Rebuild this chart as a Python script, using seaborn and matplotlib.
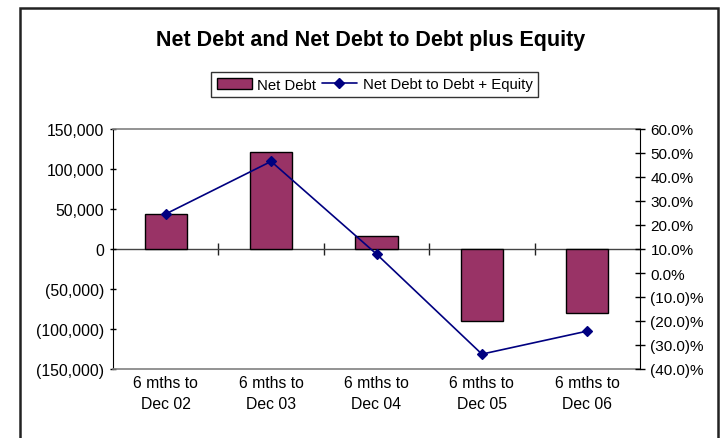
import numpy as np
import pandas as pd
import matplotlib
matplotlib.use('Agg')
import matplotlib.pyplot as plt
import seaborn as sns
from matplotlib.patches import Patch, Rectangle
from matplotlib.lines import Line2D
from matplotlib.ticker import FuncFormatter, MultipleLocator

# Data
periods = ['6 mths to\nDec 02', '6 mths to\nDec 03', '6 mths to\nDec 04',
           '6 mths to\nDec 05', '6 mths to\nDec 06']
net_debt = [43500, 121000, 16000, -90000, -80000]
net_debt_ratio = [24.6, 46.5, 7.9, -33.8, -24.2]  # percent

bar_color = '#993366'
line_color = '#000080'

sns.set_style('white')
plt.rcParams['font.family'] = ['Liberation Sans', 'DejaVu Sans']
plt.rcParams['text.color'] = 'black'

df = pd.DataFrame({'period': periods, 'net_debt': net_debt, 'ratio': net_debt_ratio})

fig = plt.figure(figsize=(7.23, 4.39), dpi=100)
ax = fig.add_axes([113 / 723, 1 - 370 / 439, 527 / 723, 240 / 439])

# Net debt bars
sns.barplot(data=df, x='period', y='net_debt', ax=ax, color=bar_color,
            saturation=1, width=0.4, edgecolor='black', linewidth=1, zorder=2)

ax.set_ylim(-150000, 150000)
ax.yaxis.set_major_locator(MultipleLocator(50000))
ax.yaxis.set_major_formatter(FuncFormatter(
    lambda v, p: f"{v:,.0f}" if v >= 0 else f"({-v:,.0f})"))
ax.set_xlim(-0.5, len(periods) - 0.5)
ax.set_xlabel('')
ax.set_ylabel('')

for side in ['top', 'bottom']:
    ax.spines[side].set_color('#808080')
    ax.spines[side].set_linewidth(1.2)
ax.spines['left'].set_color('black')
ax.spines['right'].set_visible(False)
ax.tick_params(axis='y', direction='inout', length=5, width=1, pad=4,
               labelsize=11.3, colors='black', left=True)
ax.tick_params(axis='x', length=0, pad=4, labelsize=11.3, colors='black')
for lbl in ax.get_xticklabels():
    lbl.set_linespacing(1.5)

# Category axis at zero with boundary ticks
secax = ax.secondary_xaxis(0, transform=ax.transData)
secax.set_xticks(np.arange(len(periods) - 1) + 0.5)
secax.tick_params(axis='x', direction='inout', length=8.5, width=1,
                  labelbottom=False, colors='#222222')
secax.spines['bottom'].set_color('#444444')
secax.spines['bottom'].set_linewidth(1)

# Ratio line on the secondary axis
ax2 = ax.twinx()
sns.pointplot(data=df, x='period', y='ratio', ax=ax2, color=line_color,
              markers='D', linestyles='-', linewidth=1.2, markersize=5,
              errorbar=None)
ax2.set_ylim(-40, 60)
ax2.yaxis.set_major_locator(MultipleLocator(10))
ax2.yaxis.set_major_formatter(FuncFormatter(
    lambda v, p: f"{v:.1f}%" if v >= 0 else f"({-v:.1f})%"))
ax2.set_xlim(-0.5, len(periods) - 0.5)
ax2.set_xlabel('')
ax2.set_ylabel('')
for side in ['top', 'bottom', 'left']:
    ax2.spines[side].set_visible(False)
ax2.spines['right'].set_color('black')
ax2.tick_params(axis='y', direction='inout', length=7, width=1, pad=4,
                labelsize=11, colors='black', right=True)

# Title
fig.text(0.512, 1 - 40.5 / 439, 'Net Debt and Net Debt to Debt plus Equity',
         ha='center', va='center', fontsize=15.5, fontweight='bold', color='black')

# Legend
handles = [Patch(facecolor=bar_color, edgecolor='black', linewidth=1),
           Line2D([], [], color=line_color, marker='D', markersize=5, linewidth=1.2)]
leg = fig.legend(handles, ['Net Debt', 'Net Debt to Debt + Equity'],
                 loc='center', bbox_to_anchor=(374.5 / 723, 1 - 85.5 / 439),
                 ncol=2, fontsize=10.7, frameon=True, fancybox=False,
                 handlelength=2.4, handleheight=0.75, handletextpad=0.35,
                 columnspacing=0.35, borderpad=0.4, borderaxespad=0)
leg.get_frame().set_edgecolor('black')
leg.get_frame().set_linewidth(1)

# Outer chart border
fig.patches.append(Rectangle((20 / 723, -0.05), 698 / 723, 1.05 - 8.5 / 439,
                             transform=fig.transFigure, fill=False,
                             edgecolor='#222222', linewidth=1.8))

fig.savefig('out.png', dpi=100)
